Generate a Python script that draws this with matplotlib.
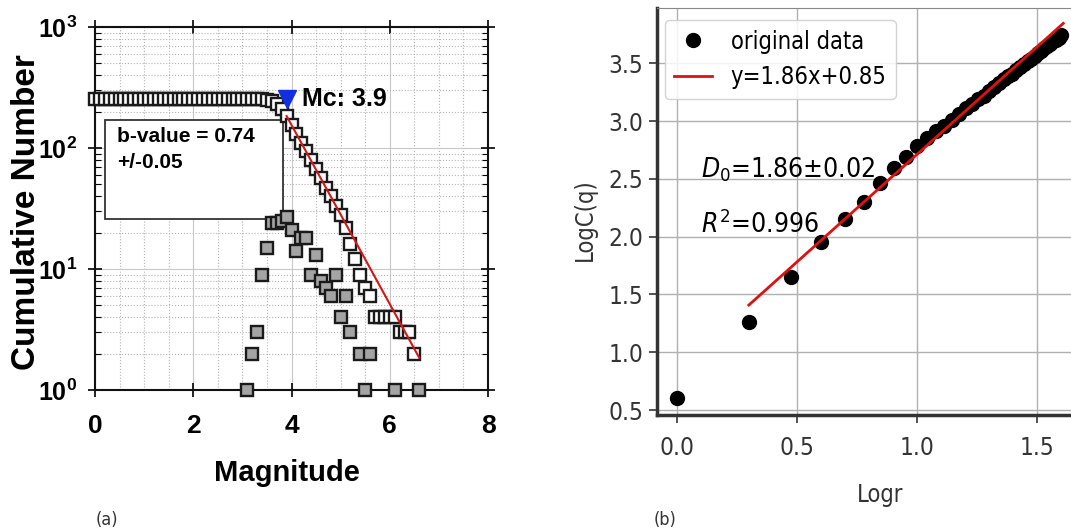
import matplotlib
matplotlib.use('Agg')
import matplotlib.pyplot as plt
from matplotlib import font_manager
from matplotlib.patches import Rectangle
from matplotlib.ticker import MultipleLocator, LogLocator, NullFormatter
import numpy as np

# ---- (a) frequency-magnitude data ----
cum_mag = [0.0, 0.1, 0.2, 0.3, 0.4, 0.5, 0.6, 0.7, 0.8, 0.9,
           1.0, 1.1, 1.2, 1.3, 1.4, 1.5, 1.6, 1.7, 1.8, 1.9,
           2.0, 2.1, 2.2, 2.3, 2.4, 2.5, 2.6, 2.7, 2.8, 2.9,
           3.0, 3.1, 3.2, 3.3, 3.4, 3.5, 3.6, 3.7, 3.8, 3.9,
           4.0, 4.1, 4.2, 4.3, 4.4, 4.5, 4.6, 4.7, 4.8, 4.9,
           5.0, 5.1, 5.2, 5.3, 5.4, 5.5, 5.6, 5.7, 5.8, 5.9,
           6.0, 6.1, 6.2, 6.3, 6.4, 6.5]
cum_num = [252, 252, 252, 252, 252, 252, 252, 252, 252, 252,
           252, 252, 252, 252, 252, 252, 252, 252, 252, 252,
           252, 252, 252, 252, 252, 252, 252, 252, 252, 252,
           252, 252, 252, 252, 252, 250, 244, 232, 212, 185,
           155, 130, 110, 94, 80, 67, 56, 47, 40, 33,
           28, 22, 16, 12, 9, 7, 6, 4, 4, 4,
           4, 4, 3, 3, 3, 2]

noncum_mag = [3.1, 3.2, 3.3, 3.4, 3.5, 3.6, 3.7, 3.8, 3.9, 4.0, 4.1, 4.2, 4.3, 4.4,
              4.5, 4.6, 4.7, 4.8, 4.9, 5.0, 5.1, 5.2, 5.4, 5.5, 5.6, 6.1, 6.6]
noncum_num = [1, 2, 3, 9, 15, 24, 24, 25, 27, 21, 14, 18, 18, 9,
              13, 8, 7, 6, 9, 4, 6, 3, 2, 1, 2, 1, 1]

mc = 3.9
mc_num = 252
b_value = 0.74
a_value = 5.15
fit_mag = np.array([3.9, 6.6])

# ---- (b) correlation integral data ----
logr = [0.000, 0.301, 0.477, 0.602, 0.699, 0.778, 0.845, 0.903, 0.954, 1.000,
        1.041, 1.079, 1.114, 1.146, 1.176, 1.204, 1.230, 1.255, 1.279, 1.301,
        1.322, 1.342, 1.362, 1.380, 1.398, 1.415, 1.431, 1.447, 1.462, 1.477,
        1.491, 1.505, 1.519, 1.531, 1.544, 1.556, 1.568, 1.580, 1.591, 1.602]
logc = [0.60, 1.26, 1.65, 1.95, 2.15, 2.30, 2.46, 2.59, 2.69, 2.78,
        2.85, 2.91, 2.96, 3.01, 3.06, 3.11, 3.15, 3.19, 3.22, 3.26,
        3.29, 3.33, 3.36, 3.39, 3.41, 3.44, 3.47, 3.49, 3.52, 3.54,
        3.56, 3.59, 3.61, 3.63, 3.65, 3.67, 3.69, 3.70, 3.72, 3.74]
slope = 1.86
intercept = 0.85
fit_x = np.array([0.30, 1.61])

names = {f.name for f in font_manager.fontManager.ttflist}
lfont = 'Liberation Sans Narrow' if 'Liberation Sans Narrow' in names else 'Liberation Sans'

plt.rcParams['font.family'] = 'DejaVu Sans'
plt.rcParams['font.stretch'] = 'condensed'
plt.rcParams['mathtext.fontset'] = 'custom'
plt.rcParams['mathtext.bf'] = lfont + ':bold'
plt.rcParams['mathtext.rm'] = lfont + ':bold'

fig = plt.figure(figsize=(10.71, 5.31), dpi=100)

# ================= (a) =================
ax1 = fig.add_axes([0.0887, 0.2655, 0.367, 0.6836])
ax1.set_yscale('log')
ax1.set_xlim(0, 8)
ax1.set_ylim(1, 1000)
ax1.set_axisbelow(True)
ax1.xaxis.set_minor_locator(MultipleLocator(0.5))
ax1.yaxis.set_minor_locator(LogLocator(base=10, subs=np.arange(2, 10)))
ax1.yaxis.set_minor_formatter(NullFormatter())
ax1.grid(True, which='major', color='#c8c8c8', lw=0.8)
ax1.grid(True, which='minor', color='#b4b4b4', lw=0.8, ls=':')

# b-value box sits under the markers
ax1.add_patch(Rectangle((0.025, 0.471), 0.453, 0.273, transform=ax1.transAxes,
                        facecolor='white', edgecolor='#333333', lw=1.3, zorder=2.5))
ax1.text(0.056, 0.662, 'b-value = 0.74\n+/-0.05', transform=ax1.transAxes,
         family=lfont, weight='bold', fontsize=15, va='center', ha='left',
         linespacing=1.45, zorder=2.6)

ax1.plot(noncum_mag, noncum_num, 's', ms=9, mfc='#a4a4a4', mec='#1a1a1a', mew=1.7,
         clip_on=False, zorder=3)
ax1.plot(cum_mag, cum_num, 's', ms=9, mfc='white', mec='#1a1a1a', mew=1.7,
         clip_on=False, zorder=4)
ax1.plot(fit_mag, 10 ** (a_value - b_value * fit_mag), color='#d01818', lw=1.5, zorder=5)
ax1.plot([mc], [mc_num], 'v', color='#1030e0', ms=13, zorder=6)
ax1.text(4.22, mc_num, 'Mc: 3.9', family=lfont, weight='bold', fontsize=18,
         va='center', ha='left', zorder=7)

ax1.set_xticks([0, 2, 4, 6, 8])
ax1.set_xticklabels(['0', '2', '4', '6', '8'], family=lfont, weight='bold', fontsize=19)
ax1.set_yticks([1, 10, 100, 1000])
ax1.set_yticklabels([r'$\mathbf{10^{0}}$', r'$\mathbf{10^{1}}$', r'$\mathbf{10^{2}}$',
                     r'$\mathbf{10^{3}}$'], fontsize=18)
ax1.tick_params(which='major', direction='inout', length=10, width=1.2,
                top=True, right=True, pad=12)
ax1.tick_params(axis='y', which='major', pad=8)
ax1.tick_params(which='minor', direction='in', length=4, width=0.8,
                top=False, bottom=False, right=True)
for s in ax1.spines.values():
    s.set_linewidth(1.5)
    s.set_color('#111111')

ax1.set_xlabel('Magnitude', family=lfont, weight='bold', fontsize=21)
ax1.xaxis.set_label_coords(0.489, -0.19)
ax1.set_ylabel('Cumulative Number', family=lfont, weight='bold', fontsize=24)
ax1.yaxis.set_label_coords(-0.136, 0.49)

# ================= (b) =================
ax2 = fig.add_axes([0.6134, 0.2185, 0.404, 0.7665])
ax2.set_xlim(-0.083, 1.72)
ax2.set_ylim(0.457, 3.978)
ax2.set_axisbelow(True)
ax2.grid(True, color='#b0b0b0', lw=1)

ax2.plot(logr, logc, 'o', color='black', ms=10, label='original data', zorder=3)
ax2.plot(fit_x, slope * fit_x + intercept, color='#e01010', lw=2,
         label='y=1.86x+0.85', zorder=4)

ax2.text(0.10, 2.51, r'$D_0$=1.86±0.02', fontsize=19, math_fontfamily='dejavusans')
ax2.text(0.10, 2.03, r'$R^2$=0.996', fontsize=19, math_fontfamily='dejavusans')

ax2.legend(loc='upper left', bbox_to_anchor=(0.018, 0.97), borderaxespad=0,
           fontsize=17, handlelength=1.6, framealpha=0.85, borderpad=0.4,
           labelspacing=0.5)

ax2.set_xticks([0.0, 0.5, 1.0, 1.5])
ax2.set_xticklabels(['0.0', '0.5', '1.0', '1.5'], fontsize=17.5)
ax2.set_yticks([0.5, 1.0, 1.5, 2.0, 2.5, 3.0, 3.5])
ax2.set_yticklabels(['0.5', '1.0', '1.5', '2.0', '2.5', '3.0', '3.5'], fontsize=17.5)
ax2.tick_params(direction='out', length=6, width=1.2, colors='#333333')
ax2.tick_params(axis='x', pad=9)
ax2.tick_params(axis='y', pad=4)
for side in ['left', 'bottom']:
    ax2.spines[side].set_linewidth(2.5)
    ax2.spines[side].set_color('#333333')
ax2.spines['top'].set_color('#888888')

ax2.set_xlabel('Logr', fontsize=17, color='#333333')
ax2.xaxis.set_label_coords(0.515, -0.168)
ax2.set_ylabel('LogC(q)', fontsize=17, color='#333333')
ax2.yaxis.set_label_coords(-0.14, 0.479)

fig.text(0.1, 0.021, '(a)', fontsize=13, ha='center', va='center', color='#333333')
fig.text(0.621, 0.021, '(b)', fontsize=13, ha='center', va='center', color='#333333')

fig.savefig('out.png', dpi=100)
